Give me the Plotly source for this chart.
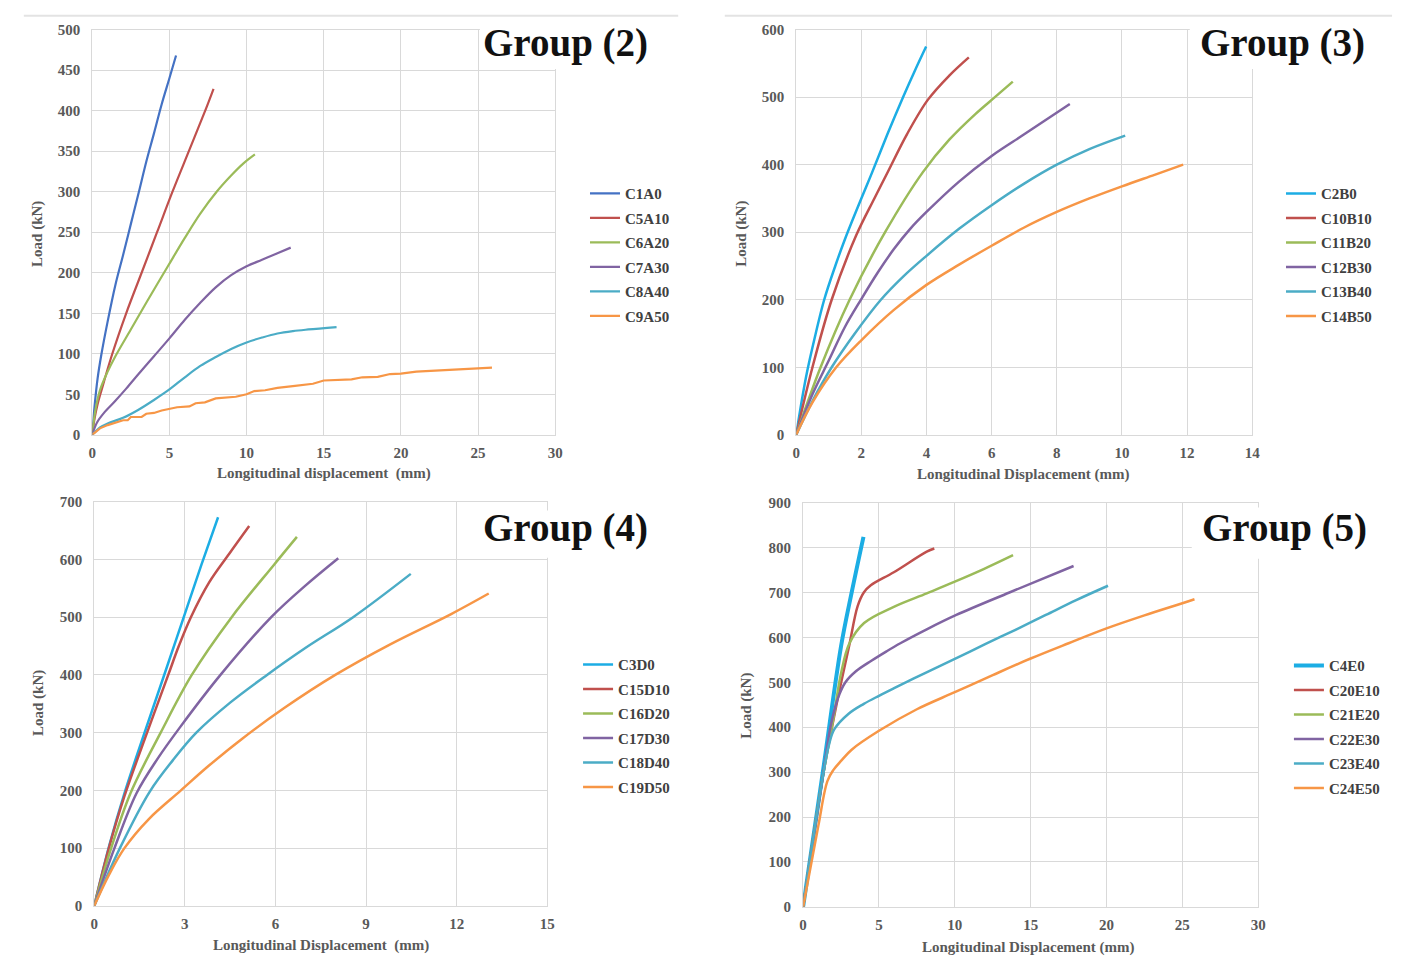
import plotly.graph_objects as go

W, H = 1405, 966

# ---------------- DATA ----------------
# Group (2)
c1a0_x = [0, 0.15, 0.35, 0.6, 1, 1.5, 2, 2.5, 3, 3.5, 4, 4.5, 5, 5.43]
c1a0_y = [0, 35, 70, 100, 140, 185, 222, 260, 298, 337, 372, 408, 440, 468]
c5a10_x = [0, 0.15, 0.35, 0.6, 1.3, 2.2, 3.2, 4.2, 5.2, 6.26, 7.32, 7.86]
c5a10_y = [0, 20, 38, 55, 100, 150, 200, 250, 300, 350, 400, 427]
c6a20_x = [0, 0.2, 0.5, 1, 1.5, 2.5, 3.5, 4.9, 6, 7, 8.06, 9, 9.8, 10.54]
c6a20_y = [0, 30, 55, 78, 97, 130, 163, 208, 243, 273, 300, 320, 335, 346]
c7a30_x = [0, 0.3, 0.8, 1.5, 2.2, 3, 4, 5, 6, 7, 8, 9, 10, 11, 12, 12.86]
c7a30_y = [0, 15, 28, 42, 57, 75, 97, 119, 142, 163, 182, 197, 208, 216, 224, 231]
c8a40_x = [0, 0.5, 1, 2, 3, 4, 5, 6, 7, 8, 9, 10, 11, 12, 13, 14, 15.83]
c8a40_y = [0, 9, 14, 21, 31, 43, 56, 71, 85, 96, 106, 114, 120, 125, 128, 130, 133]
c9a50_x = [0, 0.5, 1, 1.5, 2, 2.3, 2.5, 3.2, 3.5, 4, 4.5, 5.5, 6.3, 6.7, 7.3, 8, 8.7, 9.3,
           10, 10.5, 11.2, 12, 13, 13.8, 14.3, 15, 16, 16.8, 17.5, 18.5, 19.3, 20, 21, 22,
           23, 24, 25, 25.9]
c9a50_y = [0, 8, 12, 15, 18, 18, 22, 22, 26, 27, 30, 34, 35, 39, 40, 45, 46, 47,
           50, 54, 55, 58, 60, 62, 63, 67, 68, 68.5, 71, 71.5, 75, 75.5, 78, 79,
           80.5, 81, 82, 83]

# Group (3)
c2b0_x = [0, 0.3, 0.6, 0.86, 1.2, 1.5, 2.0, 2.31, 2.8, 3.28, 3.65, 3.99]
c2b0_y = [0, 85, 150, 200, 250, 290, 350, 386, 445, 500, 540, 575]
c10b10_x = [0, 0.5, 1.09, 1.84, 2.4, 2.82, 3.4, 4.04, 4.7, 5.3]
c10b10_y = [0, 100, 200, 295, 350, 390, 445, 496, 532, 559]
c11b20_x = [0, 0.75, 1.64, 2.73, 3.89, 4.7, 5.5, 6.1, 6.65]
c11b20_y = [0, 100, 200, 300, 389, 437, 475, 500, 523]
c12b30_x = [0, 0.5, 1, 1.5, 2, 2.5, 3, 3.5, 4, 5, 6, 7, 8.4]
c12b30_y = [0, 60, 110, 160, 201, 240, 275, 305, 330, 375, 413, 445, 490]
c13b40_x = [0, 0.5, 1.09, 1.8, 2.6, 3.3, 4, 5, 6, 7, 8, 9, 10.1]
c13b40_y = [0, 50, 100, 150, 200, 235, 265, 305, 340, 372, 400, 423, 443]
c14b50_x = [0, 0.5, 1.23, 2, 3, 4, 5, 6, 7, 8, 9, 10, 11, 11.88]
c14b50_y = [0, 48, 100, 140, 185, 222, 252, 280, 307, 330, 350, 368, 385, 400]

# Group (4)
c3d0_x = [0, 0.5, 1, 1.7, 2.35, 2.95, 3.55, 4.1]
c3d0_y = [0, 105, 195, 305, 405, 498, 591, 673]
c15d10_x = [0, 0.5, 1, 1.75, 2.45, 2.8, 3.2, 3.8, 4.47, 5.13]
c15d10_y = [0, 103, 190, 300, 400, 450, 500, 560, 610, 658]
c16d20_x = [0, 0.5, 1.2, 2.2, 3.23, 4.55, 5.94, 6.71]
c16d20_y = [0, 90, 195, 300, 400, 500, 590, 639]
c17d30_x = [0, 0.67, 1.4, 2.1, 2.85, 4.18, 5.86, 7.0, 8.08]
c17d30_y = [0, 100, 195, 255, 310, 400, 500, 555, 602]
c18d40_x = [0, 0.85, 1.84, 2.6, 3.38, 4.5, 5.72, 7.0, 8.57, 10.48]
c18d40_y = [0, 100, 198, 252, 300, 352, 400, 447, 500, 575]
c19d50_x = [0, 0.5, 1.0, 1.8, 2.87, 3.8, 4.91, 6.3, 7.98, 9.8, 11.8, 13.06]
c19d50_y = [0, 55, 100, 150, 200, 243, 290, 343, 400, 453, 505, 541]

# Group (5)
c4e0_x = [0, 1.3, 2.5, 3.2, 3.98]
c4e0_y = [0, 300, 580, 700, 824]
c20e10_x = [0, 1.3, 2.2, 3.04, 3.59, 4.0, 4.46, 5.98, 8.15, 8.65]
c20e10_y = [0, 290, 450, 582, 669, 700, 716, 745, 791, 798]
c21e20_x = [0, 1.3, 2.0, 2.5, 3.04, 4.02, 5.98, 8.15, 10.0, 11.9, 13.84]
c21e20_y = [0, 290, 420, 520, 586, 632, 668, 698, 724, 752, 783]
c22e30_x = [0, 1.3, 1.8, 2.3, 2.79, 3.5, 4.5, 5.5, 6.41, 8.15, 10.1, 13.6, 17.83]
c22e30_y = [0, 290, 400, 465, 500, 525, 548, 569, 587, 618, 650, 700, 759]
c23e40_x = [0, 1.3, 1.7, 2.05, 3.0, 4.0, 5.0, 6.0, 8.0, 10.0, 12.0, 14.0, 16.0, 18.0, 20.1]
c23e40_y = [0, 290, 360, 395, 430, 452, 470, 487, 520, 552, 585, 617, 650, 683, 715]
c24e50_x = [0, 1.0, 1.6, 2.0, 2.5, 3.2, 5.0, 7.5, 10.0, 12.5, 15.0, 17.5, 20.0, 22.5, 25.0, 25.8]
c24e50_y = [0, 180, 280, 305, 325, 350, 392, 440, 478, 516, 553, 587, 620, 649, 676, 685]

# tick labels / ranges
g2_xticks = [0, 5, 10, 15, 20, 25, 30]
g2_yticks = [0, 50, 100, 150, 200, 250, 300, 350, 400, 450, 500]
g3_xticks = [0, 2, 4, 6, 8, 10, 12, 14]
g3_yticks = [0, 100, 200, 300, 400, 500, 600]
g4_xticks = [0, 3, 6, 9, 12, 15]
g4_yticks = [0, 100, 200, 300, 400, 500, 600, 700]
g5_xticks = [0, 5, 10, 15, 20, 25, 30]
g5_yticks = [0, 100, 200, 300, 400, 500, 600, 700, 800, 900]

BLUE = "#4472C4"; SKY = "#1CADE4"; RED = "#C0504D"; GREEN = "#9BBB59"
PURPLE = "#8064A2"; TEAL = "#4BACC6"; ORANGE = "#F79646"

groups = [
    dict(name="Group (2)", xticks=g2_xticks, yticks=g2_yticks,
         xtitle="Longitudinal displacement&nbsp;&nbsp;(mm)",
         series=[("C1A0", c1a0_x, c1a0_y, BLUE, 2.2), ("C5A10", c5a10_x, c5a10_y, RED, 2.2),
                 ("C6A20", c6a20_x, c6a20_y, GREEN, 2.2), ("C7A30", c7a30_x, c7a30_y, PURPLE, 2.2),
                 ("C8A40", c8a40_x, c8a40_y, TEAL, 2.2), ("C9A50", c9a50_x, c9a50_y, ORANGE, 2.2)],
         px=(89, 556, 22, 434), box=(480, 700, 14, 62), title_c=(566, 36),
         legend=(586, 172), xt=(323, 473), yt=(33, 230)),
    dict(name="Group (3)", xticks=g3_xticks, yticks=g3_yticks,
         xtitle="Longitudinal Displacement (mm)",
         series=[("C2B0", c2b0_x, c2b0_y, SKY, 2.5), ("C10B10", c10b10_x, c10b10_y, RED, 2.5),
                 ("C11B20", c11b20_x, c11b20_y, GREEN, 2.5), ("C12B30", c12b30_x, c12b30_y, PURPLE, 2.5),
                 ("C13B40", c13b40_x, c13b40_y, TEAL, 2.5), ("C14B50", c14b50_x, c14b50_y, ORANGE, 2.5)],
         px=(799, 1259, 22, 434), box=(1196, 1405, 14, 62), title_c=(1290, 36),
         legend=(1288, 172), xt=(1028, 474), yt=(744, 230)),
    dict(name="Group (4)", xticks=g4_xticks, yticks=g4_yticks,
         xtitle="Longitudinal Displacement&nbsp;&nbsp;(mm)",
         series=[("C3D0", c3d0_x, c3d0_y, SKY, 2.5), ("C15D10", c15d10_x, c15d10_y, RED, 2.5),
                 ("C16D20", c16d20_x, c16d20_y, GREEN, 2.5), ("C17D30", c17d30_x, c17d30_y, PURPLE, 2.5),
                 ("C18D40", c18d40_x, c18d40_y, TEAL, 2.5), ("C19D50", c19d50_x, c19d50_y, ORANGE, 2.5)],
         px=(91, 548, 502, 913), box=(478, 700, 511, 559), title_c=(566, 529),
         legend=(579, 651), xt=(320, 953), yt=(35, 707)),
    dict(name="Group (5)", xticks=g5_xticks, yticks=g5_yticks,
         xtitle="Longitudinal Displacement (mm)",
         series=[("C4E0", c4e0_x, c4e0_y, SKY, 4), ("C20E10", c20e10_x, c20e10_y, RED, 2.5),
                 ("C21E20", c21e20_x, c21e20_y, GREEN, 2.5), ("C22E30", c22e30_x, c22e30_y, PURPLE, 2.5),
                 ("C23E40", c23e40_x, c23e40_y, TEAL, 2.5), ("C24E50", c24e50_x, c24e50_y, ORANGE, 2.5)],
         px=(806, 1265, 503, 914), box=(1198, 1405, 508, 560), title_c=(1292, 529),
         legend=(1296, 652), xt=(1033, 955), yt=(749, 710)),
]

SERIF = "Liberation Serif"
TICKC = "#595959"

fig = go.Figure()
layout = dict(width=W, height=H, margin=dict(l=0, r=0, t=0, b=0),
              paper_bgcolor="white", plot_bgcolor="white", showlegend=True)
shapes, annotations = [], []

def px2x(p):
    return p / W

def px2y(p):
    return 1 - p / H

for i, g in enumerate(groups):
    n = i + 1
    xa = "x" if n == 1 else f"x{n}"
    ya = "y" if n == 1 else f"y{n}"
    lg = "legend" if n == 1 else f"legend{n}"
    for (nm, xs, ys, col, lw) in g["series"]:
        if nm == "C9A50":
            ln = dict(color=col, width=lw)
        else:
            ln = dict(color=col, width=lw, shape="spline", smoothing=1.0)
        fig.add_trace(go.Scatter(
            x=xs, y=ys, mode="lines", name=nm, xaxis=xa, yaxis=ya, legend=lg,
            legendgroup=f"{lg}_{nm}", line=ln))
    x0, x1, y0, y1 = g["px"]
    xt, yt = g["xticks"], g["yticks"]
    axis_common = dict(showgrid=True, gridcolor="#d9d9d9", gridwidth=1,
                       showline=True, linecolor="#d9d9d9", linewidth=1, mirror=True,
                       zeroline=False, ticks="",
                       tickfont=dict(family=SERIF, size=15, color=TICKC, weight="bold"))
    layout["xaxis" if n == 1 else f"xaxis{n}"] = dict(
        axis_common, domain=[px2x(x0), px2x(x1)], range=[xt[0], xt[-1]],
        tickvals=xt, anchor=ya, ticklabelstandoff=4)
    layout["yaxis" if n == 1 else f"yaxis{n}"] = dict(
        axis_common, domain=[px2y(y1), px2y(y0)], range=[yt[0], yt[-1]],
        tickvals=yt, anchor=xa, ticklabelstandoff=8)
    lx, ly = g["legend"]
    layout[lg] = dict(x=px2x(lx), y=px2y(ly), xanchor="left", yanchor="top",
                      bgcolor="rgba(0,0,0,0)", borderwidth=0, tracegroupgap=2,
                      font=dict(family=SERIF, size=15, color="#404040", weight="bold"))
    bx0, bx1, by0, by1 = g["box"]
    shapes.append(dict(type="rect", xref="paper", yref="paper", layer="above",
                       x0=px2x(bx0), x1=px2x(bx1), y0=px2y(by1), y1=px2y(by0),
                       fillcolor="white", line=dict(width=0)))
    tcx, tcy = g["title_c"]
    annotations.append(dict(text=g["name"], xref="paper", yref="paper",
                            x=px2x(tcx), y=px2y(tcy), xanchor="center", yanchor="middle",
                            showarrow=False,
                            font=dict(family=SERIF, size=39, color="#111111", weight="bold")))
    ax, ay = g["xt"]
    annotations.append(dict(text=g["xtitle"], xref="paper", yref="paper",
                            x=px2x(ax), y=px2y(ay), xanchor="center", yanchor="middle",
                            showarrow=False,
                            font=dict(family=SERIF, size=15, color=TICKC, weight="bold")))
    yx, yy = g["yt"]
    annotations.append(dict(text="Load (kN)", xref="paper", yref="paper", textangle=-90,
                            x=px2x(yx), y=px2y(yy), xanchor="center", yanchor="middle",
                            showarrow=False,
                            font=dict(family=SERIF, size=15, color=TICKC, weight="bold")))

# top separator lines of upper panels
shapes.append(dict(type="line", xref="paper", yref="paper", x0=px2x(20), x1=px2x(680),
                   y0=px2y(8), y1=px2y(8), line=dict(color="#e3e3e3", width=2)))
shapes.append(dict(type="line", xref="paper", yref="paper", x0=px2x(727), x1=px2x(1400),
                   y0=px2y(8), y1=px2y(8), line=dict(color="#e3e3e3", width=2)))

layout["shapes"] = shapes
layout["annotations"] = annotations
fig.update_layout(**layout)
fig.write_html("out.html", config={"displayModeBar": False},
               post_script="document.body.style.margin='0';document.body.style.overflow='hidden';")
